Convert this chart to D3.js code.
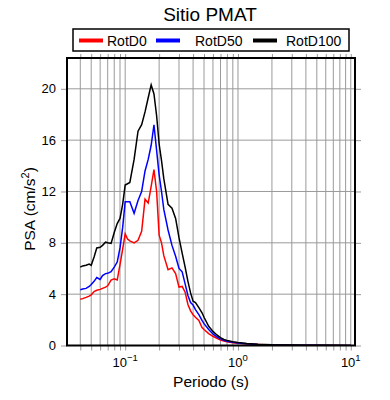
<!DOCTYPE html>
<html><head><meta charset="utf-8">
<script src="https://cdn.jsdelivr.net/npm/d3@7"></script>
<style>body{margin:0;background:#fff}svg{display:block;font-family:"Liberation Sans",Arial,sans-serif}</style>
</head><body>
<svg id="c" width="390" height="400"></svg>
<script>
const periods = [0.04,0.042,0.045,0.048,0.05,0.053,0.056,0.06,0.063,0.067,0.07,0.075,0.08,0.085,0.09,0.095,0.1,0.105,0.11,0.12,0.13,0.14,0.15,0.16,0.17,0.18,0.19,0.2,0.21,0.22,0.24,0.26,0.28,0.3,0.32,0.34,0.36,0.38,0.4,0.42,0.45,0.48,0.5,0.55,0.6,0.65,0.7,0.75,0.8,0.9,1.0,1.2,1.5,2,3,4,5,7.5,10];
const rotD100 = [6.1,6.2,6.25,6.35,6.25,6.9,7.6,7.65,7.8,8.05,8.0,7.95,8.8,9.5,9.9,11.0,12.5,12.6,12.7,14.5,16.7,17.2,18.2,19.3,20.3,19.6,17.9,15.7,14.4,13.0,11.0,10.7,9.9,8.4,7.2,6.1,5.0,4.1,3.45,3.35,2.95,2.55,2.2,1.5,1.1,0.82,0.62,0.47,0.4,0.3,0.24,0.16,0.09,0.05,0.03,0.02,0.015,0.01,0.008];
const rotD50 = [4.35,4.4,4.45,4.6,4.75,5.0,5.3,5.15,5.45,5.6,5.62,5.75,6.1,6.5,7.6,9.2,11.2,11.2,11.2,10.3,11.3,12.0,13.6,14.5,15.6,17.2,15.2,13.3,12.0,10.6,9.0,7.8,6.95,6.0,5.74,4.8,3.9,3.35,3.15,2.8,2.4,1.95,1.7,1.25,0.9,0.68,0.52,0.4,0.33,0.25,0.2,0.13,0.08,0.045,0.025,0.018,0.012,0.008,0.006];
const rotD0 = [3.6,3.65,3.75,3.85,3.95,4.2,4.3,4.37,4.45,4.55,4.65,5.1,5.2,5.1,6.3,7.5,8.7,8.3,8.15,8.0,8.2,8.9,11.4,11.1,12.4,13.7,12.0,8.6,8.0,7.0,5.9,6.05,5.6,4.55,4.6,4.15,3.2,2.7,2.4,2.2,1.95,1.4,1.25,0.93,0.72,0.56,0.43,0.35,0.3,0.22,0.17,0.11,0.07,0.04,0.02,0.015,0.01,0.007,0.005];
const seriesNames = ["RotD0","RotD50","RotD100"];
const seriesColors = ["#ff0000","#0000ff","#000000"];
const yTicks = [0,4,8,12,16,20];
const xMajor = [0.1,1,10];
const xMajorExp = ["\u22121","0","1"];

const svg = d3.select("#c");
const L=67,R=355,T=58,B=345.5;
const x = d3.scaleLog().domain([0.0305,10.9]).range([L,R]);
const y = d3.scaleLinear().domain([0,22.4]).range([B,T]);
const grey = "#9a9a9a";

const xt = x.ticks().filter(d=>d>=0.0305&&d<=10.9);
// grid
svg.append("g").selectAll("line").data(xt).join("line")
  .attr("x1",d=>x(d)).attr("x2",d=>x(d)).attr("y1",T).attr("y2",B)
  .attr("stroke",grey).attr("stroke-width",1);
svg.append("g").selectAll("line").data(yTicks.filter(d=>d>0)).join("line")
  .attr("x1",L).attr("x2",R).attr("y1",d=>y(d)).attr("y2",d=>y(d))
  .attr("stroke",grey).attr("stroke-width",1);

// axes ticks
const axB = svg.append("g").attr("transform",`translate(0,${B})`).call(d3.axisBottom(x).tickValues(xt).tickSize(5).tickFormat(""));
const axT = svg.append("g").attr("transform",`translate(0,${T})`).call(d3.axisTop(x).tickValues(xt).tickSize(4).tickFormat(""));
const axL = svg.append("g").attr("transform",`translate(${L},0)`).call(d3.axisLeft(y).tickValues(yTicks).tickSize(6).tickPadding(5));
const axR = svg.append("g").attr("transform",`translate(${R},0)`).call(d3.axisRight(y).tickValues(yTicks).tickSize(6).tickFormat(""));
[axB,axT,axL,axR].forEach(a=>{a.select(".domain").remove();a.selectAll(".tick line").attr("stroke",grey);});
axL.selectAll(".tick text").attr("font-size",13).attr("fill","#000").attr("font-family","Liberation Sans, Arial, sans-serif");

// x major labels
const lab = svg.append("g").selectAll("text").data(xMajor).join("text")
  .attr("x",d=>x(d)).attr("y",367).attr("text-anchor","middle").attr("font-size",13);
lab.append("tspan").text("10");
lab.append("tspan").attr("dy",-6).attr("font-size",9.5).text((d,i)=>xMajorExp[i]);

// lines
const line = d3.line().x((d,i)=>x(periods[i])).y(d=>y(d));
const clip = svg.append("clipPath").attr("id","cl").append("rect").attr("x",L).attr("y",T).attr("width",R-L).attr("height",B-T);
[rotD0,rotD50,rotD100].forEach((s,k)=>{
  svg.append("path").attr("d",line(s)).attr("fill","none").attr("stroke",seriesColors[k]).attr("stroke-width",1.5).attr("clip-path","url(#cl)");
});

// frame
svg.append("rect").attr("x",L).attr("y",T).attr("width",R-L).attr("height",B-T).attr("fill","none").attr("stroke","#000").attr("stroke-width",2);

// title
svg.append("text").attr("x",210).attr("y",21).attr("text-anchor","middle").attr("font-size",19).text("Sitio PMAT");

// legend
svg.append("rect").attr("x",73).attr("y",29).attr("width",276).attr("height",22).attr("fill","#fff").attr("stroke","#000").attr("stroke-width",1.5);
const legX = [79,156,253], legTX=[107,195,286];
seriesNames.forEach((n,k)=>{
  svg.append("line").attr("x1",legX[k]).attr("x2",legX[k]+24).attr("y1",40.5).attr("y2",40.5).attr("stroke",seriesColors[k]).attr("stroke-width",4);
  svg.append("text").attr("x",legTX[k]).attr("y",45.5).attr("font-size",14).text(n);
});

// axis labels
svg.append("text").attr("x",211).attr("y",387).attr("text-anchor","middle").attr("font-size",15.5).text("Periodo (s)");
const yl = svg.append("text").attr("transform","translate(35,209) rotate(-90)").attr("text-anchor","middle").attr("font-size",15.5);
yl.append("tspan").text("PSA (cm/s");
yl.append("tspan").attr("dy",-6).attr("font-size",11).text("2");
yl.append("tspan").attr("dy",6).text(")");
</script>
</body></html>
